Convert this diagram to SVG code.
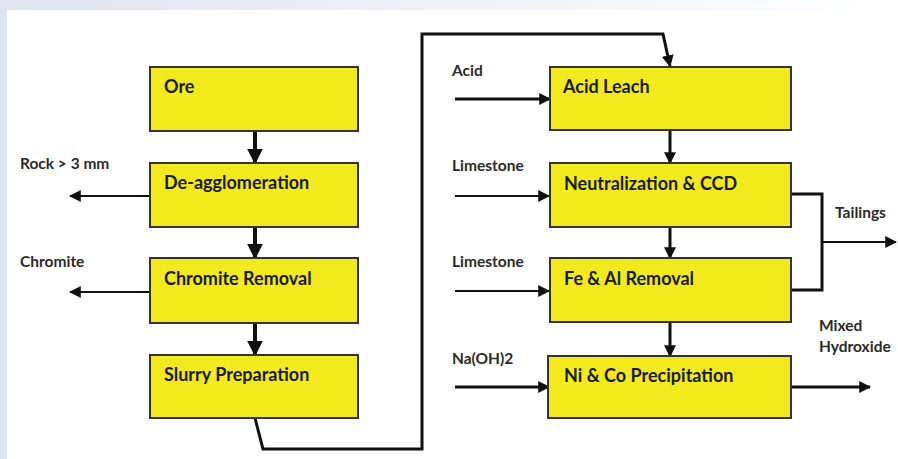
<svg xmlns="http://www.w3.org/2000/svg" width="898" height="459" viewBox="0 0 898 459">
<defs>
<linearGradient id="topg" x1="0" y1="0" x2="1" y2="0">
<stop offset="0" stop-color="#dfe5ee"/>
<stop offset="0.5" stop-color="#eef1f6"/>
<stop offset="1" stop-color="#ffffff"/>
</linearGradient>
<marker id="ah" viewBox="0 0 10 10" refX="9" refY="5" markerWidth="4" markerHeight="4" markerUnits="strokeWidth" orient="auto"><path d="M0,0 L10,5 L0,10 z" fill="#111"/></marker>
<marker id="ahs" viewBox="0 0 10 10" refX="9" refY="5" markerWidth="6" markerHeight="6" markerUnits="strokeWidth" orient="auto"><path d="M0,0 L10,5 L0,10 z" fill="#111"/></marker>
</defs>
<style>
.box{fill:#f2ea1c;stroke:#333;stroke-width:2}
.bl{font-family:Lato,"Open Sans",sans-serif;font-weight:bold;font-size:18px;fill:#1a1a1a}
.sl{font-family:Lato,"Open Sans",sans-serif;font-weight:bold;font-size:15.5px;fill:#2a2a2a}
.thick{fill:none;stroke:#111;stroke-width:4;marker-end:url(#ah)}
.mid{fill:none;stroke:#111;stroke-width:3;marker-end:url(#ah)}
.thin{fill:none;stroke:#111;stroke-width:2;marker-end:url(#ahs)}
.line{fill:none;stroke:#111;stroke-width:3}
</style>
<rect x="0" y="0" width="898" height="459" fill="#ffffff"/>
<rect x="0" y="0" width="898" height="10" fill="url(#topg)"/>
<rect x="0" y="0" width="7" height="459" fill="#dfe5ee"/>

<g id="connectors">
<path class="thick" d="M255,131 V163"/>
<path class="thick" d="M255,227 V258"/>
<path class="thick" d="M255,323 V355"/>
<path class="thin" d="M150,196 H70"/>
<path class="thin" d="M150,292 H70"/>
<path class="mid" d="M255,418 L263,449 H422 V34 H663 L670,66"/>
<path class="mid" d="M455,99 H550"/>
<path class="thin" d="M455,196 H549"/>
<path class="thin" d="M455,291 H549"/>
<path class="mid" d="M455,387 H549"/>
<path class="mid" d="M670,130 V163"/>
<path class="mid" d="M670,227 V258"/>
<path class="mid" d="M670,322 V356"/>
<path class="line" d="M791,194 H822 V290 H791"/>
<path class="thin" d="M822,242 H896"/>
<path class="mid" d="M791,387 H870"/>
</g>

<g id="n-ore"><rect class="box" x="150" y="67" width="208" height="64"/><text class="bl" x="164" y="93">Ore</text></g>
<g id="n-deagg"><rect class="box" x="150" y="163" width="208" height="64"/><text class="bl" x="164" y="189">De-agglomeration</text></g>
<g id="n-chromite"><rect class="box" x="150" y="258" width="208" height="65"/><text class="bl" x="164" y="285">Chromite Removal</text></g>
<g id="n-slurry"><rect class="box" x="150" y="355" width="208" height="63"/><text class="bl" x="164" y="381">Slurry Preparation</text></g>

<g id="n-acidleach"><rect class="box" x="550" y="67" width="241" height="63"/><text class="bl" x="563" y="93">Acid Leach</text></g>
<g id="n-neutral"><rect class="box" x="550" y="163" width="241" height="64"/><text class="bl" x="564" y="190">Neutralization &amp; CCD</text></g>
<g id="n-feal"><rect class="box" x="550" y="258" width="241" height="64"/><text class="bl" x="564" y="285">Fe &amp; Al Removal</text></g>
<g id="n-nico"><rect class="box" x="548" y="356" width="243" height="62"/><text class="bl" x="564" y="382">Ni &amp; Co Precipitation</text></g>

<g id="labels">
<text class="sl" x="20" y="169">Rock &gt; 3 mm</text>
<text class="sl" x="20" y="267">Chromite</text>
<text class="sl" x="452" y="76">Acid</text>
<text class="sl" x="452" y="171">Limestone</text>
<text class="sl" x="452" y="267">Limestone</text>
<text class="sl" x="452" y="364">Na(OH)2</text>
<text class="sl" x="835" y="218">Tailings</text>
<text class="sl" x="819" y="331">Mixed</text>
<text class="sl" x="819" y="352">Hydroxide</text>
</g>
</svg>
